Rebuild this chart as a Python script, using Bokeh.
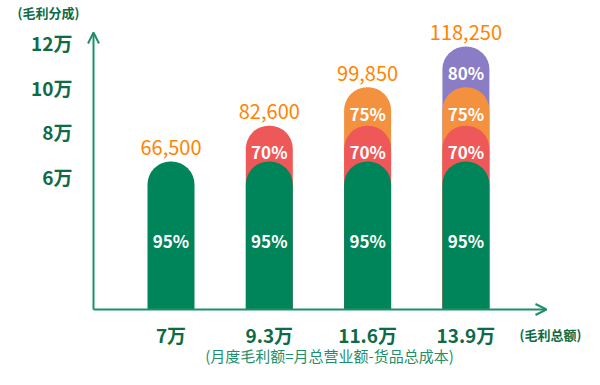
from bokeh.plotting import figure
from bokeh.models import Range1d, Arrow, OpenHead
from bokeh.core.properties import value
from bokeh.embed import file_html
from bokeh.resources import INLINE

# ---- data ----
categories = ["7万", "9.3万", "11.6万", "13.9万"]
positions = [1, 2, 3, 4]
tier_tops = [66500, 82600, 99850, 118250]
tier_shares = ["95%", "70%", "75%", "80%"]
tiers_per_bar = [1, 2, 3, 4]
bar_totals = [66500, 82600, 99850, 118250]
value_labels = ["66,500", "82,600", "99,850", "118,250"]
y_ticks = [60000, 80000, 100000, 120000]
y_tick_labels = ["6万", "8万", "10万", "12万"]
y_caption = "(毛利分成)"
x_caption = "(毛利总额)"
subtitle = "(月度毛利额=月总营业额-货品总成本)"

# ---- style ----
tier_colors = ["#00845A", "#EF5858", "#F4913F", "#8A7DC6"]
axis_color = "#1E8F68"
tick_color = "#0E6B46"
value_color = "#FF8400"
FONT = "Noto Sans CJK SC"

W, H = 584, 369
px_per_cat = 98.3
px_per_unit = 22.25 / 10000.0
axis_px_x = 93          # y-axis position from left
axis_px_from_bottom = 60
x_start = 1 - 170.5 / px_per_cat
y_start = -axis_px_from_bottom / px_per_unit
x_axis = x_start + axis_px_x / px_per_cat

p = figure(width=W, height=H,
           x_range=Range1d(x_start, x_start + W / px_per_cat),
           y_range=Range1d(y_start, y_start + H / px_per_unit),
           output_backend="svg", toolbar_location=None,
           x_axis_location=None, y_axis_location=None,
           min_border=0)
p.grid.visible = False
p.outline_line_color = None
p.background_fill_color = "white"
p.border_fill_color = "white"

# stacked rounded tiers, tallest first
for k in reversed(range(len(tier_tops))):
    xs = [positions[i] for i in range(len(positions)) if tiers_per_bar[i] > k]
    p.vbar(x=xs, top=tier_tops[k], bottom=0, width=47 / px_per_cat,
           fill_color=tier_colors[k], line_color=None,
           border_radius=(23, 23, 0, 0))

# share labels
for k in range(len(tier_tops)):
    xs = [positions[i] for i in range(len(positions)) if tiers_per_bar[i] > k]
    if k == 0:
        ys, off = [0] * len(xs), -69
    else:
        ys, off = [tier_tops[k]] * len(xs), 26
    p.text(x=xs, y=ys, text=[tier_shares[k]] * len(xs),
           text_font=value(FONT), text_font_size="17px", text_font_style="bold",
           text_color="white", text_align="center", text_baseline="middle",
           y_offset=off)

# totals
p.text(x=positions, y=bar_totals, text=value_labels,
       text_font=value(FONT), text_font_size="20px",
       text_color=value_color, text_align="center", text_baseline="middle",
       y_offset=-14)

# y tick labels
p.text(x=[x_axis] * len(y_ticks), y=y_ticks, text=y_tick_labels,
       text_font=value(FONT), text_font_size="19px", text_font_style="bold",
       text_color=tick_color, text_align="right", text_baseline="middle",
       x_offset=-21)

# x tick labels
p.text(x=positions, y=[0] * len(positions), text=categories,
       text_font=value(FONT), text_font_size="19px", text_font_style="bold",
       text_color=tick_color, text_align="center", text_baseline="middle",
       y_offset=25)

# arrow axis lines
y_arrow_top = 124500
x_arrow_end = x_axis + 453 / px_per_cat
p.add_layout(Arrow(end=OpenHead(size=11, line_color=axis_color, line_width=2),
                   x_start=x_axis, y_start=0, x_end=x_axis, y_end=y_arrow_top,
                   line_color=axis_color, line_width=2))
p.add_layout(Arrow(end=OpenHead(size=11, line_color=axis_color, line_width=2),
                   x_start=x_axis, y_start=0, x_end=x_arrow_end, y_end=0,
                   line_color=axis_color, line_width=2))

# captions
p.text(x=[x_axis], y=[y_arrow_top], text=[y_caption],
       text_font=value(FONT), text_font_size="13px", text_font_style="bold",
       text_color=tick_color, text_align="left", text_baseline="middle",
       x_offset=-76, y_offset=-20)
p.text(x=[x_axis], y=[0], text=[x_caption],
       text_font=value(FONT), text_font_size="13px", text_font_style="bold",
       text_color=tick_color, text_align="left", text_baseline="middle",
       x_offset=426, y_offset=25)
p.text(x=[x_axis], y=[0], text=[subtitle],
       text_font=value(FONT), text_font_size="15px",
       text_color=axis_color, text_align="center", text_baseline="middle",
       x_offset=236, y_offset=46)

open("out.html", "w").write(file_html(p, INLINE))
